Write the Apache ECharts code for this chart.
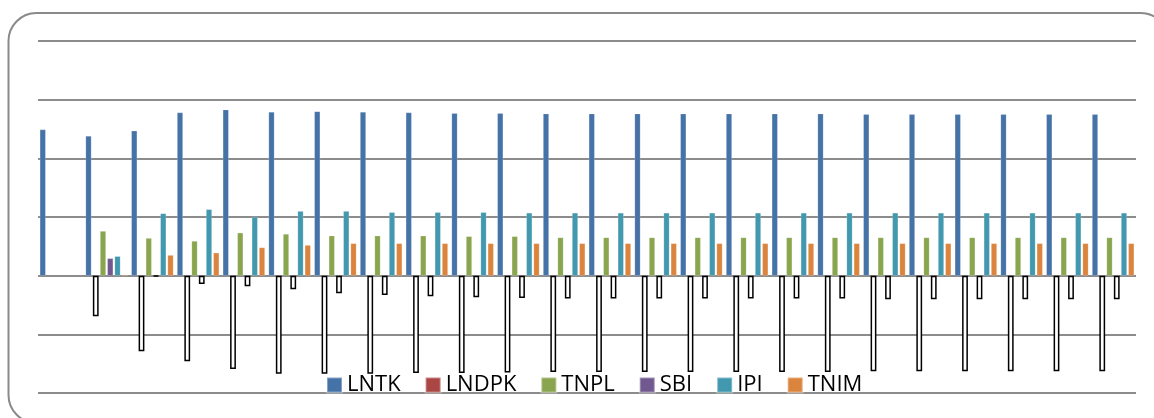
<!DOCTYPE html>
<html>
<head>
<meta charset="utf-8">
<script src="https://cdn.jsdelivr.net/npm/echarts@6/dist/echarts.min.js"></script>
<style>html,body{margin:0;padding:0;background:#fff}#c{width:1154px;height:418px}</style>
</head>
<body>
<div id="c"></div>
<script>
const categories = ['1','2','3','4','5','6','7','8','9','10','11','12','13','14','15','16','17','18','19','20','21','22','23','24'];
const LNTK  = [24.9, 23.8, 24.7, 27.8, 28.3, 27.9, 28.0, 27.9, 27.8, 27.7, 27.7, 27.6, 27.6, 27.6, 27.6, 27.6, 27.6, 27.6, 27.5, 27.5, 27.5, 27.5, 27.5, 27.5];
const LNDPK = [null, -6.9, -12.9, -14.6, -15.9, -16.7, -16.7, -16.7, -16.6, -16.6, -16.5, -16.4, -16.4, -16.4, -16.4, -16.4, -16.4, -16.4, -16.3, -16.3, -16.3, -16.3, -16.3, -16.3];
const TNPL  = [null, 7.6, 6.4, 5.9, 7.3, 7.1, 6.8, 6.8, 6.8, 6.7, 6.7, 6.5, 6.5, 6.5, 6.5, 6.5, 6.5, 6.5, 6.5, 6.5, 6.5, 6.5, 6.5, 6.5];
const SBI   = [null, 2.95, -0.15, -1.4, -1.8, -2.3, -3.0, -3.3, -3.5, -3.7, -3.8, -3.9, -3.9, -3.9, -3.9, -3.9, -3.9, -3.9, -4.0, -4.0, -4.0, -4.0, -4.0, -4.0];
const IPI   = [null, 3.3, 10.6, 11.3, 10.0, 11.0, 11.0, 10.8, 10.8, 10.8, 10.7, 10.7, 10.7, 10.7, 10.7, 10.7, 10.7, 10.7, 10.7, 10.7, 10.7, 10.7, 10.7, 10.7];
const TNIM  = [null, 0.15, 3.5, 3.9, 4.8, 5.2, 5.5, 5.5, 5.5, 5.5, 5.5, 5.5, 5.5, 5.5, 5.5, 5.5, 5.5, 5.5, 5.5, 5.5, 5.5, 5.5, 5.5, 5.5];

const seriesNames = ['LNTK','LNDPK','TNPL','SBI','IPI','TNIM'];
const seriesData = [LNTK, LNDPK, TNPL, SBI, IPI, TNIM];
const colors = ['#4572A7','#AA4643','#89A54E','#71588F','#4198AF','#DB843D'];

function build(arr){
  return arr.map(v => (v !== null && v < 0)
    ? {value: v, itemStyle: {color: '#ffffff', borderColor: '#000000', borderWidth: 1.5}}
    : v);
}

const chart = echarts.init(document.getElementById('c'), null, {renderer: 'canvas'});
chart.setOption({
  animation: false,
  color: colors,
  graphic: [{
    type: 'rect', silent: true, z: 100,
    shape: {x: 8.5, y: 13, width: 1160, height: 410, r: 28},
    style: {fill: 'none', stroke: '#8a8a8a', lineWidth: 2}
  }],
  grid: {left: 38, right: 18, top: 41, bottom: 25},
  legend: {
    data: seriesNames, left: 321, top: 369,
    itemWidth: 15, itemHeight: 15, itemGap: 24, icon: 'rect',
    textStyle: {fontFamily: 'Open Sans', fontSize: 22, color: '#000'}
  },
  xAxis: {
    type: 'category', data: categories,
    axisLine: {show: false}, axisTick: {show: false}, axisLabel: {show: false}
  },
  yAxis: {
    type: 'value', min: -20, max: 40, interval: 10,
    axisLine: {show: false}, axisTick: {show: false}, axisLabel: {show: false},
    splitLine: {lineStyle: {color: '#8c8c8c', width: 2}}
  },
  series: seriesNames.map((n, i) => ({
    name: n, type: 'bar', data: build(seriesData[i]),
    barWidth: 5.8, barGap: '25%',
    itemStyle: {color: colors[i], borderColor: 'rgba(255,255,255,0.35)', borderWidth: 0.5}
  }))
});
</script>
</body>
</html>
